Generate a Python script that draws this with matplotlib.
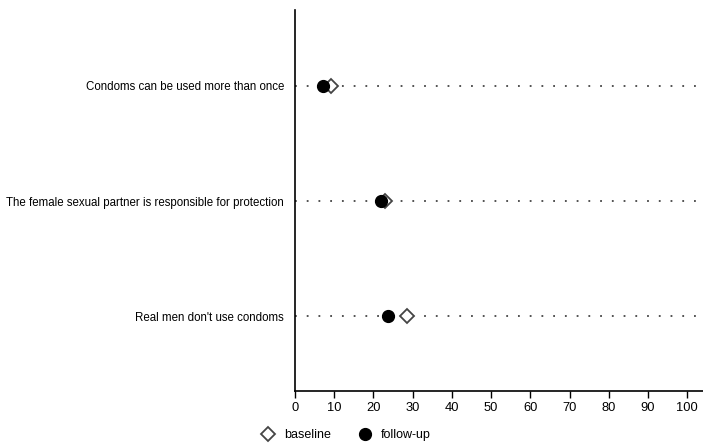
import matplotlib.pyplot as plt
from matplotlib.lines import Line2D

plt.rcParams['font.family'] = ['Liberation Sans', 'DejaVu Sans']

statements = [
    "Condoms can be used more than once",
    "The female sexual partner is responsible for protection",
    "Real men don't use condoms",
]
baseline = [9.2, 23.0, 28.6]
follow_up = [7.1, 22.0, 23.7]
xticks = list(range(0, 101, 10))

fig = plt.figure(figsize=(7.03, 4.44), dpi=100)
ax = fig.add_axes([295 / 703, 1 - 391 / 444, 408 / 703, 381 / 444])

ypos = [3, 2, 1]
for y in ypos:
    ax.axhline(y, color='#444444', lw=1.3, ls=(0, (1, 5.5)), zorder=1)

ax.plot(follow_up, ypos, ls='none', marker='o', ms=8.5, color='black', zorder=3)
ax.plot(baseline, ypos, ls='none', marker='D', ms=7.5, mfc='white', mec='#444444',
        mew=1.3, zorder=2)

ax.set_xlim(0, 104)
ax.set_ylim(0.35, 3.66)
ax.set_xticks(xticks)
ax.set_yticks(ypos)
ax.set_yticklabels(statements)
ax.tick_params(axis='x', direction='out', length=5, width=1.0, labelsize=9.3, pad=3)
ax.tick_params(axis='y', length=0, labelsize=8.3, pad=8)

for side in ['top', 'right']:
    ax.spines[side].set_visible(False)
for side in ['left', 'bottom']:
    ax.spines[side].set_linewidth(1.2)

handles = [
    Line2D([], [], ls='none', marker='D', ms=7.5, mfc='white', mec='#444444', mew=1.3),
    Line2D([], [], ls='none', marker='o', ms=8.5, color='black'),
]
fig.legend(handles, ['baseline', 'follow-up'], loc='center', ncol=2, frameon=False,
           bbox_to_anchor=(346 / 703, 1 - 435 / 444), fontsize=9,
           handletextpad=0.8, columnspacing=2.2, handlelength=1.0)

fig.savefig('out.png', dpi=100)
